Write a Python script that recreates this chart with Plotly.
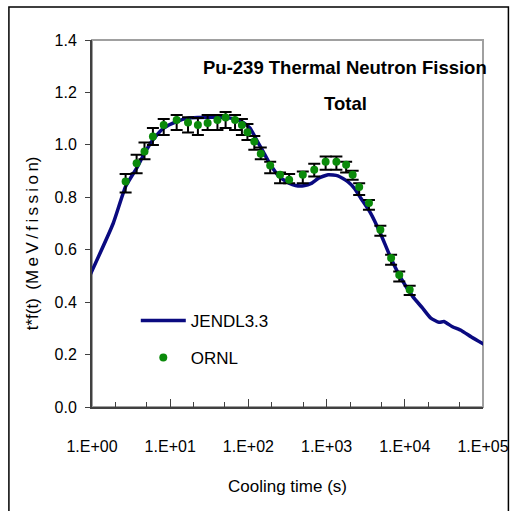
import plotly.graph_objects as go

# ---- data ----
jendl_t = [0.908, 1.87, 2.69, 3.72, 4.69, 6.01, 8.26, 12.1, 16.9, 22.6, 36.5, 58.8, 82.5, 105, 127, 154, 186, 248, 331, 400, 508, 648, 788, 1047, 1395, 1866, 2257, 2730, 3650, 4870, 6500, 8660, 12600, 16900, 21500, 27400, 31600, 40100, 53300, 71000, 115000]
jendl_y = [0.492, 0.701, 0.841, 0.911, 0.968, 1.019, 1.064, 1.089, 1.102, 1.104, 1.105, 1.102, 1.089, 1.064, 1.019, 0.975, 0.930, 0.879, 0.854, 0.845, 0.844, 0.854, 0.873, 0.886, 0.882, 0.860, 0.835, 0.797, 0.740, 0.663, 0.574, 0.498, 0.422, 0.377, 0.339, 0.323, 0.326, 0.307, 0.291, 0.267, 0.231]

ornl_t = [2.69, 3.72, 4.69, 6.01, 8.26, 12.1, 16.9, 22.6, 30.1, 40.2, 51.1, 67.5, 82.6, 97.2, 119, 144, 190, 254, 332, 496, 695, 972, 1334, 1778, 2154, 2610, 3480, 4870, 6680, 8490, 11550]
ornl_y = [0.860, 0.930, 0.975, 1.032, 1.076, 1.095, 1.085, 1.076, 1.083, 1.095, 1.104, 1.095, 1.076, 1.048, 1.013, 0.966, 0.921, 0.886, 0.867, 0.886, 0.905, 0.936, 0.936, 0.924, 0.886, 0.839, 0.778, 0.676, 0.568, 0.504, 0.447]
ornl_hi = [0.889, 0.962, 1.009, 1.064, 1.099, 1.114, 1.105, 1.102, 1.114, 1.114, 1.125, 1.114, 1.099, 1.080, 1.034, 0.990, 0.936, 0.895, 0.889, 0.898, 0.928, 0.956, 0.956, 0.936, 0.901, 0.854, 0.790, 0.691, 0.581, 0.517, 0.463]
ornl_lo = [0.818, 0.892, 0.945, 0.999, 1.038, 1.057, 1.047, 1.038, 1.057, 1.057, 1.064, 1.057, 1.038, 1.019, 0.981, 0.945, 0.892, 0.854, 0.854, 0.854, 0.879, 0.905, 0.905, 0.895, 0.867, 0.809, 0.752, 0.653, 0.543, 0.479, 0.427]

x_tickvals = [1, 10, 100, 1000, 10000, 100000]
x_ticktext = ["1.E+00", "1.E+01", "1.E+02", "1.E+03", "1.E+04", "1.E+05"]
y_tickvals = [0.0, 0.2, 0.4, 0.6, 0.8, 1.0, 1.2, 1.4]

FONT = "Liberation Sans, Arial, sans-serif"

err_plus = [h - y for h, y in zip(ornl_hi, ornl_y)]
err_minus = [y - l for y, l in zip(ornl_y, ornl_lo)]

fig = go.Figure()
fig.add_trace(go.Scatter(
    x=jendl_t, y=jendl_y, mode="lines", name="JENDL3.3",
    line=dict(color="#0a0a80", width=3.5, shape="spline", smoothing=0.5),
    cliponaxis=False, legendgroup="a",
))
fig.add_trace(go.Scatter(
    x=ornl_t, y=ornl_y, mode="markers", name="ORNL",
    marker=dict(color="#0a8a0a", size=8, line=dict(width=0)),
    error_y=dict(type="data", symmetric=False, array=err_plus, arrayminus=err_minus,
                 color="black", thickness=2, width=6),
    legendgroup="b",
))

# outer frame
fig.add_shape(type="rect", xref="paper", yref="paper",
              x0=-0.2125, x1=1.065, y0=-0.30, y1=1.0899,
              line=dict(color="black", width=1.5), fillcolor="rgba(0,0,0,0)", layer="below")
# plot area border (gray)
fig.add_shape(type="rect", xref="paper", yref="paper", x0=0, x1=1, y0=0, y1=1,
              line=dict(color="#a0a0a0", width=2), layer="below")

fig.add_annotation(text="<b>Pu-239 Thermal Neutron Fission</b>", xref="paper", yref="paper",
                   x=0.648, y=0.924, xanchor="center", yanchor="middle", showarrow=False,
                   font=dict(family=FONT, size=18.5, color="black"))
fig.add_annotation(text="<b>Total</b>", xref="paper", yref="paper",
                   x=0.648, y=0.828, xanchor="center", yanchor="middle", showarrow=False,
                   font=dict(family=FONT, size=18.5, color="black"))
# y-axis title (placed as in the reference, below the plot-area centre)
fig.add_annotation(text="t*f(t)\u2002(M\u2009e\u2009V\u2009/\u2009f\u2009i\u2009s\u2009s\u2009i\u2009o\u2009n)",
                   xref="paper", yref="paper", x=-0.15, y=0.447, textangle=-90,
                   xanchor="center", yanchor="middle", showarrow=False,
                   font=dict(family=FONT, size=17, color="black"))

fig.update_layout(
    width=521, height=511,
    margin=dict(l=92, r=29, t=40, b=104),
    paper_bgcolor="white", plot_bgcolor="white",
    font=dict(family=FONT, size=16, color="black"),
    showlegend=True,
    legend=dict(x=0.112, y=0.184, xanchor="left", yanchor="middle", bgcolor="rgba(0,0,0,0)",
                font=dict(family=FONT, size=17), itemwidth=45, tracegroupgap=12,
                traceorder="grouped"),
    xaxis=dict(type="log", range=[0, 5], tickvals=x_tickvals, ticktext=x_ticktext,
               showgrid=False, zeroline=False, showline=True, linecolor="#404040", linewidth=2,
               ticks="inside", ticklen=8, tickcolor="#404040", tickwidth=1,
               minor=dict(ticks="inside", ticklen=5, tickcolor="#404040", tickwidth=1, showgrid=False),
               ticklabelstandoff=24, ticklabeloverflow="allow",
               title=dict(text="Cooling time (s)", standoff=26, font=dict(size=17)),
               tickfont=dict(size=16)),
    yaxis=dict(range=[0, 1.4], tickvals=y_tickvals, tickformat=".1f",
               showgrid=False, zeroline=False, showline=True, linecolor="#404040", linewidth=2,
               ticks="outside", ticklen=5, tickcolor="#404040", tickwidth=1,
               ticklabelstandoff=5,
               tickfont=dict(size=16)),
)

fig.write_html("out.html")
